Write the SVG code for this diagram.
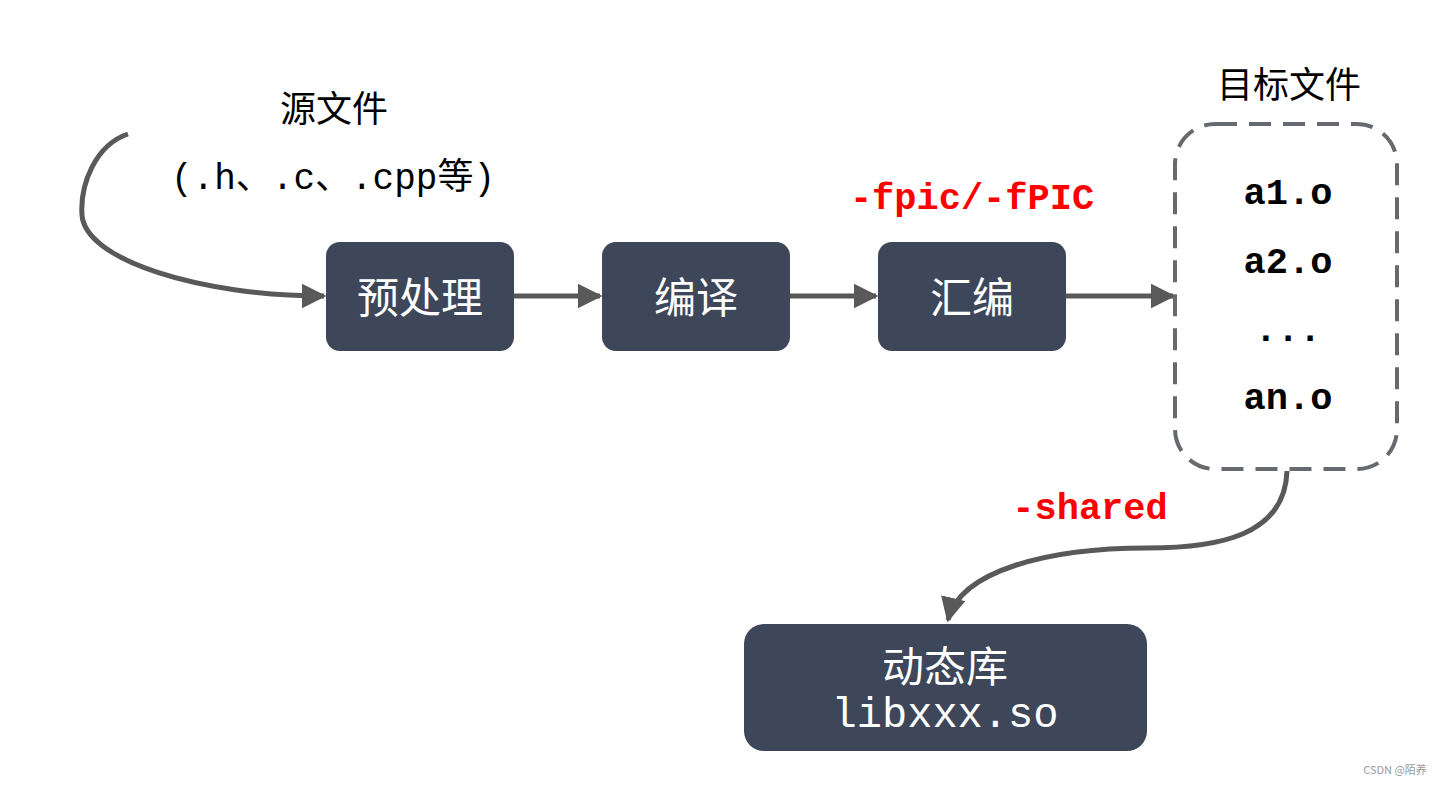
<svg xmlns="http://www.w3.org/2000/svg" width="1443" height="785" viewBox="0 0 1443 785">
<defs>
<marker id="ah" viewBox="0 0 10 10" refX="9" refY="5" markerWidth="5" markerHeight="5" markerUnits="strokeWidth" orient="auto">
<path d="M0,0 L10,5 L0,10 z" fill="#595959"/>
</marker>
<style>
.box{fill:#3d4759;}
.lbl{font-family:"Noto Sans CJK SC","Noto Sans",sans-serif;font-size:42px;fill:#ffffff;text-anchor:middle;}
.cap{font-family:"Noto Sans CJK SC",sans-serif;font-size:36px;fill:#000;text-anchor:middle;}
.mono{font-family:"Liberation Mono","Noto Sans CJK SC",monospace;}
.red{font-family:"Liberation Mono",monospace;font-weight:bold;font-size:37px;fill:#ff0000;text-anchor:middle;}
.obj{font-family:"Liberation Mono",monospace;font-weight:bold;font-size:37px;fill:#000;text-anchor:middle;}
.conn{fill:none;stroke:#595959;stroke-width:5;marker-end:url(#ah);}
</style>
</defs>
<rect width="1443" height="785" fill="#ffffff"/>
<g id="connectors">
<path class="conn" d="M128,134 C95,145 80,185 82,215 C85,260 200,296 324,296"/>
<path class="conn" d="M514,296 L600,296"/>
<path class="conn" d="M790,296 L876,296"/>
<path class="conn" d="M1066,296 L1173,296"/>
<path class="conn" d="M1287,471 C1285,535 1220,548 1147,548 C1050,548 960,570 948,620"/>
</g>
<g id="source">
<text class="cap" x="334" y="122">源文件</text>
<text class="mono" x="333" y="189" font-size="36" text-anchor="middle" fill="#000">(.h、.c、.cpp等)</text>
</g>
<g id="preprocess">
<rect class="box" x="326" y="242" width="188" height="109" rx="14"/>
<text class="lbl" x="420" y="313">预处理</text>
</g>
<g id="compile">
<rect class="box" x="602" y="242" width="188" height="109" rx="14"/>
<text class="lbl" x="696" y="313">编译</text>
</g>
<g id="assemble">
<rect class="box" x="878" y="242" width="188" height="109" rx="14"/>
<text class="lbl" x="972" y="313">汇编</text>
</g>
<text class="red" x="972" y="209">-fpic/-fPIC</text>
<g id="objects">
<text class="cap" x="1289" y="98">目标文件</text>
<rect x="1175" y="124" width="222" height="345" rx="40" fill="none" stroke="#666a6e" stroke-width="4" stroke-dasharray="22,12"/>
<text class="obj" x="1288" y="204">a1.o</text>
<text class="obj" x="1288" y="273">a2.o</text>
<text class="obj" x="1288" y="341">...</text>
<text class="obj" x="1288" y="409">an.o</text>
</g>
<text class="red" x="1090" y="519">-shared</text>
<g id="sharedlib">
<rect class="box" x="744" y="624" width="403" height="127" rx="20"/>
<text class="lbl" x="945" y="682">动态库</text>
<text class="mono" x="945" y="727" font-size="42" text-anchor="middle" fill="#ffffff">libxxx.so</text>
</g>
<text x="1395" y="774" font-family="'Noto Sans CJK SC',sans-serif" font-size="11" fill="#999" text-anchor="middle">CSDN @陌养</text>
</svg>
